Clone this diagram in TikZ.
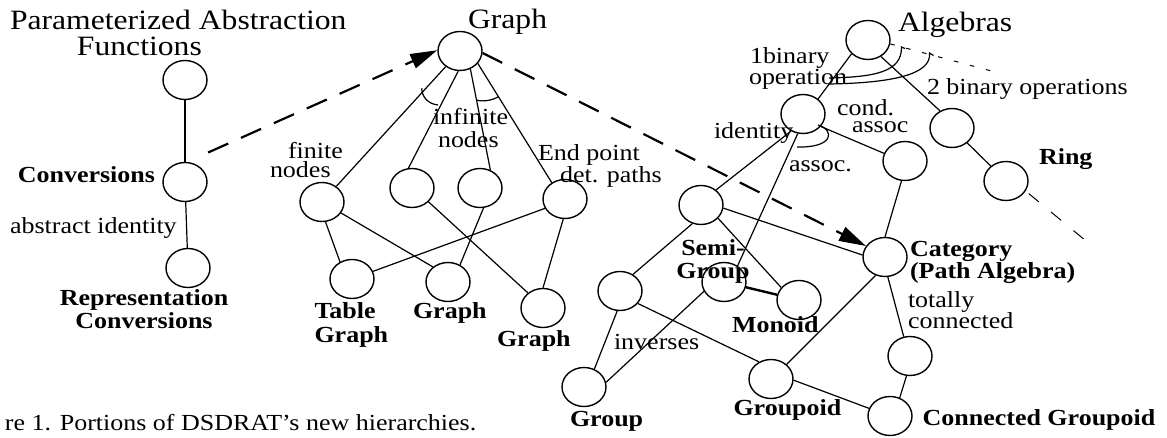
\documentclass[tikz,border=0pt]{standalone}
\usepackage{fontspec}
\setmainfont{Liberation Serif}[FakeStretch=1.13]
\usetikzlibrary{arrows.meta,shapes.geometric}
\begin{document}
\begin{tikzpicture}[x=1pt,y=-1pt,
  vertex/.style={draw,ellipse,minimum width=44pt,minimum height=39pt,inner sep=0pt,line width=1.4pt},
  edge/.style={line width=1.2pt},
  heavy/.style={line width=2.4pt},
  arcmark/.style={line width=1.2pt},
  bigdash/.style={line width=2.2pt,dash pattern=on 22pt off 14pt,-{Triangle[length=27pt,width=15pt]}},
  thindash/.style={line width=1pt,dash pattern=on 13pt off 16pt},
  dotline/.style={line width=1pt,dash pattern=on 4.5pt off 12pt},
  txt/.style={inner sep=0pt,outer sep=0pt,font=\fontsize{23}{22}\selectfont},
  btxt/.style={inner sep=0pt,outer sep=0pt,font=\fontsize{23}{23}\selectfont\bfseries},
  bigtxt/.style={inner sep=0pt,outer sep=0pt,font=\fontsize{28}{26}\selectfont}]
\useasboundingbox (0,0) rectangle (1167,438);

% ---------- abstraction functions ----------
\node[vertex] (paf) at (185,80) {};
\node[vertex] (conv) at (185,182) {};
\node[vertex] (rep) at (188,268) {};
\draw[edge] (paf) -- (conv);
\draw[edge] (conv) -- (rep);

\node[bigtxt,anchor=north west,align=left,font=\fontsize{28}{25.7}\selectfont] (tpaf) at (10,10.3)
  {Parameterized Abstraction\\\hspace*{67pt}Functions};
\node[btxt,anchor=base east] (tconv) at (155,183) {Conversions};
\node[txt,anchor=base west] (tabsid) at (10,233.3) {abstract identity};
\node[btxt,anchor=north,align=center,font=\fontsize{23}{23.3}\selectfont\bfseries] (trep) at (144,289.4)
  {Representation\\Conversions};

% ---------- graph hierarchy ----------
\node[vertex] (g0) at (460,51) {};
\node[vertex] (fin) at (322,202) {};
\node[vertex] (n2) at (412,188) {};
\node[vertex] (n3) at (480,188) {};
\node[vertex] (n4) at (565,199) {};
\node[vertex] (tg) at (352,279) {};
\node[vertex] (gm) at (448,282) {};
\node[vertex] (gr) at (543,308) {};

\draw[edge] (g0) -- (fin);
\draw[edge] (g0.-95) -- (n2.100);
\draw[edge] (g0.-60) -- (n3.60);
\draw[edge] (g0.-35) -- (n4.129);
\draw[edge] (fin.-80) -- (tg.125);
\draw[edge] (fin.-30) -- (gm.135);
\draw[edge] (n2.-40) -- (gr.135);
\draw[edge] (n3.-80) -- (gm.55);
\draw[edge] (n4.205) -- (tg.20);
\draw[edge] (n4.-95) -- (gr.90);

% grouping arcs under the root
\draw[arcmark] (421.7,88.3) .. controls (422,97) and (428,104) .. (438,105);
\draw[arcmark] (476.2,100) .. controls (483,102) and (492,100.5) .. (498.4,96.7);

\node[bigtxt,anchor=base west] (tgraph) at (468,28.5) {Graph};
\node[txt,anchor=north west,align=left,font=\fontsize{23}{19.3}\selectfont] (tfin) at (270,142.4)
  {\hspace*{18pt}finite\\nodes};
\node[txt,anchor=north west,align=left,font=\fontsize{23}{22.7}\selectfont] (tinf) at (433,108.4)
  {infinite\\\hspace*{5pt}nodes};
\node[txt,anchor=north west,align=left,font=\fontsize{23}{22}\selectfont] (tend) at (538,144.4)
  {End point\\\hspace*{22pt}det. paths};
\node[btxt,anchor=north west,align=left,font=\fontsize{23}{23.4}\selectfont\bfseries] (ttg) at (314.5,302.7)
  {Table\\Graph};
\node[btxt,anchor=base west] (tgm) at (413,318.3) {Graph};
\node[btxt,anchor=base west] (tgr) at (497,346.7) {Graph};

% ---------- algebra hierarchy ----------
\node[vertex] (alg) at (868,40) {};
\node[vertex] (a1) at (803,114) {};
\node[vertex] (b2) at (952,128) {};
\node[vertex] (ca) at (905,161) {};
\node[vertex] (ring) at (1006,181) {};
\node[vertex] (sg0) at (701,205) {};
\node[vertex] (cat) at (885,257) {};
\node[vertex] (sg) at (724,282) {};
\node[vertex] (mon) at (799,300) {};
\node[vertex] (lft) at (620,291) {};
\node[vertex] (grp) at (584,387) {};
\node[vertex] (gpd) at (771,379) {};
\node[vertex] (cgp) at (890,416) {};
\node[vertex] (tc) at (910,356) {};
\coordinate (ringend) at (1084,239.3);
\coordinate (dotend) at (994,71.7);

\draw[edge] (alg.-140) -- (a1.45);
\draw[edge] (alg.-52) -- (b2.125);
\draw[edge] (b2) -- (ring);
\draw[thindash,shorten <=4pt] (ring.-27) -- (ringend);
\draw[dotline] (alg.-10) -- (dotend);
\draw[edge] (a1.-35) -- (ca.160);
\draw[edge] (a1.-125) -- (sg0.45);
\draw[edge] (a1.-105) -- (sg.50);
\draw[edge] (ca.-100) -- (cat.90);
\draw[edge] (sg0.-115) -- (lft.52);
\draw[edge] (sg0.-8) -- (cat.175);
\draw[edge] (sg0.-38) -- (mon.145);
\draw[heavy] (sg) -- (mon);
\draw[edge] (sg.-155) -- (grp.12);
\draw[edge] (lft.-98) -- (grp.60);
\draw[edge] (lft.-35) -- (gpd.125);
\draw[edge] (gpd.43) -- (cat.-117);
\draw[edge] (gpd.-3) -- (cgp.160);
\draw[edge] (cat.-82) -- (tc.108);
\draw[edge] (tc.-100) -- (cgp.62);

% grouping arcs with their small end hooks
\draw[arcmark] (829,78) .. controls (875,77) and (902,72) .. (901.5,47) -- (905,48.5);
\draw[arcmark] (829,84) .. controls (890,83) and (932,75) .. (929.5,53) -- (933.5,55.5);
\draw[arcmark] (818,125) .. controls (835,130) and (834,148) .. (797,147);

\node[bigtxt,anchor=base west] (talg) at (898,31.7) {Algebras};
\node[txt,anchor=north west,align=left,font=\fontsize{23}{18.4}\selectfont] (tone) at (749,47.7)
  {\hspace*{1pt}1binary\\operation};
\node[txt,anchor=base west] (ttwo) at (927,95) {2 binary operations};
\node[txt,anchor=base west] (tid) at (714,138.3) {identity};
\node[txt,anchor=north west,align=left,font=\fontsize{23}{16.8}\selectfont] (tcond) at (837,99.9)
  {cond.\\\hspace*{15pt}assoc};
\node[txt,anchor=base west] (tassoc) at (789,171.7) {assoc.};
\node[btxt,anchor=base west] (tring) at (1039,164.3) {Ring};
\node[btxt,anchor=north,align=center,font=\fontsize{23}{23.3}\selectfont\bfseries] (tsemi) at (713,239.4)
  {Semi-\\Group};
\node[btxt,anchor=north west,align=left,font=\fontsize{23}{22.6}\selectfont\bfseries] (tcat) at (910,241.1)
  {Category\\(Path Algebra)};
\node[txt,anchor=north west,align=left,font=\fontsize{23}{20}\selectfont] (ttot) at (908,291.1)
  {totally\\connected};
\node[btxt,anchor=base west] (tmon) at (732,332.7) {Monoid};
\node[txt,anchor=base west] (tinv) at (614,349.3) {inverses};
\node[btxt,anchor=base west] (tgrp) at (570,426.7) {Group};
\node[btxt,anchor=base west] (tgpd) at (733.5,415) {Groupoid};
\node[btxt,anchor=base west] (tcgp) at (922.6,425) {Connected Groupoid};

% ---------- dashed mappings between hierarchies ----------
\draw[bigdash,shorten <=23pt] (conv.84) -- (g0.178);
\draw[bigdash] (g0.-5) -- (cat.150);

% ---------- caption ----------
\node[txt,anchor=base west] (caption) at (5,430) {re 1. Portions of DSDRAT’s new hierarchies.};
\end{tikzpicture}
\end{document}
